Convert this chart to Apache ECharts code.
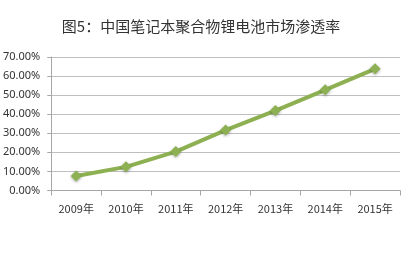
<!DOCTYPE html>
<html><head><meta charset="utf-8">
<script src="https://cdn.jsdelivr.net/npm/echarts@6/dist/echarts.min.js"></script>
<style>html,body{margin:0;padding:0;background:#fff}#c{width:415px;height:266px}</style>
</head><body><div id="c"></div>
<script>
const titleText = '图5：中国笔记本聚合物锂电池市场渗透率';
const categories = ['2009年','2010年','2011年','2012年','2013年','2014年','2015年'];
const penetration = [0.076, 0.124, 0.204, 0.317, 0.419, 0.528, 0.638];
const yTicks = [0, 0.1, 0.2, 0.3, 0.4, 0.5, 0.6, 0.7];

const chart = echarts.init(document.getElementById('c'), null, {renderer:'canvas'});
chart.setOption({
  animation: false,
  backgroundColor: '#fff',
  title: {
    text: titleText, left: 196, top: 14, textAlign: 'center',
    textStyle: {fontFamily: 'Noto Sans CJK SC', fontSize: 15, fontWeight: 'normal', color: '#333'}
  },
  grid: {left: 50, right: 15, top: 57, bottom: 75.5},
  xAxis: {
    type: 'category', data: categories, boundaryGap: true,
    axisLine: {lineStyle: {color: '#a6a6a6', width: 1}},
    axisTick: {show: true, length: 5, lineStyle: {color: '#a6a6a6'}},
    axisLabel: {margin: 13, fontSize: 11, color: '#333', fontFamily: 'Noto Sans CJK SC'}
  },
  yAxis: {
    type: 'value', min: yTicks[0], max: yTicks[yTicks.length-1], interval: 0.1,
    axisLine: {show: true, lineStyle: {color: '#a6a6a6'}},
    axisTick: {show: true, length: 4, inside: false, lineStyle: {color: '#a6a6a6'}},
    splitLine: {lineStyle: {color: '#bfbfbf', width: 1}},
    axisLabel: {margin: 11, fontSize: 11, color: '#333', fontFamily: 'Noto Sans',
      formatter: v => (v*100).toFixed(2) + '%'}
  },
  series: [{
    type: 'line', data: penetration,
    lineStyle: {color: '#8db152', width: 4},
    symbol: 'diamond', symbolSize: 11,
    itemStyle: {color: '#8db152', shadowColor: 'rgba(0,0,0,0.35)', shadowBlur: 3, shadowOffsetY: 1}
  }]
});
</script></body></html>
